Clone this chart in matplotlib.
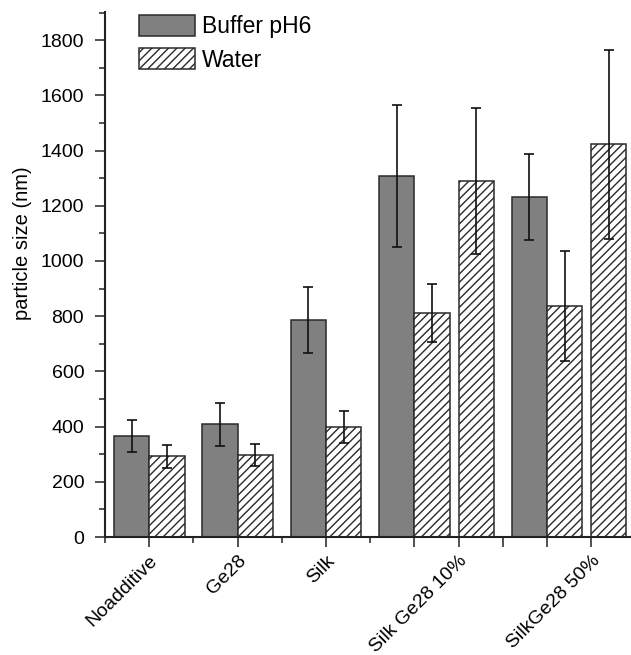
import numpy as np
import matplotlib
matplotlib.use("Agg")
import matplotlib.pyplot as plt
from matplotlib.ticker import FixedLocator

plt.rcParams["font.family"] = ["Liberation Sans", "DejaVu Sans"]
plt.rcParams["hatch.linewidth"] = 1.0
plt.rcParams["hatch.color"] = "#222222"

# Data
categories = ["Noadditive", "Ge28", "Silk", "Silk Ge28 10%", "SilkGe28 50%"]

buffer_vals = [365, 408, 786, 1307, 1231]
buffer_err = [58, 77, 118, 257, 155]

# the last two groups carry a second hatched bar
water_vals = [293, 298, 399, 810, 1291, 836, 1422]
water_err = [42, 39, 58, 105, 265, 200, 342]

# Layout (x positions in axis units)
label_x = [0.5, 1.5, 2.5, 4.0, 5.5]
buffer_x = [0.3, 1.3, 2.3, 3.3, 4.8]
water_x = [0.7, 1.7, 2.7, 3.7, 4.2, 5.2, 5.7]
bar_w = 0.4

fig = plt.figure(figsize=(6.31, 6.55), dpi=100)
ax = fig.add_axes([105 / 631, 1 - 537 / 655, 525 / 631, 525 / 655])

edge = "#2a2a2a"
ax.bar(
    buffer_x, buffer_vals, width=bar_w,
    color="#808080", edgecolor=edge, linewidth=1.1,
    label="Buffer pH6", zorder=2
)
ax.bar(
    water_x, water_vals, width=bar_w,
    color="white", edgecolor=edge, linewidth=1.1,
    hatch="////", label="Water", zorder=2
)

ax.errorbar(
    buffer_x, buffer_vals, yerr=buffer_err,
    fmt="none", ecolor="#111111", elinewidth=1.2,
    capsize=3.8, capthick=1.2, zorder=3
)
ax.errorbar(
    water_x, water_vals, yerr=water_err,
    fmt="none", ecolor="#111111", elinewidth=1.2,
    capsize=3.8, capthick=1.2, zorder=3
)

ax.set_xlim(0, 5.94)
ax.set_ylim(0, 1902)

# y axis ticks
ax.set_yticks(np.arange(0, 1801, 200))
ax.yaxis.set_minor_locator(FixedLocator(np.arange(100, 1901, 200)))
ax.tick_params(axis="y", which="major", direction="out", length=7,
               width=1.1, pad=8, labelsize=14, color="#222222")
ax.tick_params(axis="y", which="minor", direction="out", length=4.5,
               width=1.1, color="#222222")

# x axis ticks: long ones, labels only at category positions
major_x = [0.5, 1.5, 2.5, 3.5, 4.0, 4.5, 5.0, 5.5]
major_lab = []
for p in major_x:
    if p in label_x:
        major_lab.append(categories[label_x.index(p)])
    else:
        major_lab.append("")
ax.set_xticks(major_x)
ax.set_xticklabels(major_lab, rotation=45, ha="right",
                   rotation_mode="anchor")
ax.xaxis.set_minor_locator(FixedLocator([0, 1, 2, 3]))
ax.tick_params(axis="x", which="major", direction="out", length=7,
               width=1.1, pad=4, labelsize=14, color="#222222")
ax.tick_params(axis="x", which="minor", direction="out", length=4.5,
               width=1.1, color="#222222")

for s in ["top", "right"]:
    ax.spines[s].set_visible(False)
for s in ["left", "bottom"]:
    ax.spines[s].set_linewidth(1.5)
    ax.spines[s].set_color("#222222")

ax.set_ylabel("particle size (nm)", fontsize=14.5)
ax.yaxis.set_label_coords(-0.139, 0.56)

ax.legend(
    loc="upper left",
    bbox_to_anchor=(139 / 631, 1 - 15 / 655),
    bbox_transform=fig.transFigure,
    frameon=False, fontsize=16.5,
    borderpad=0, borderaxespad=0,
    handlelength=2.45, handleheight=1.05,
    handletextpad=0.28, labelspacing=0.42
)

fig.savefig("out.png", dpi=100)
